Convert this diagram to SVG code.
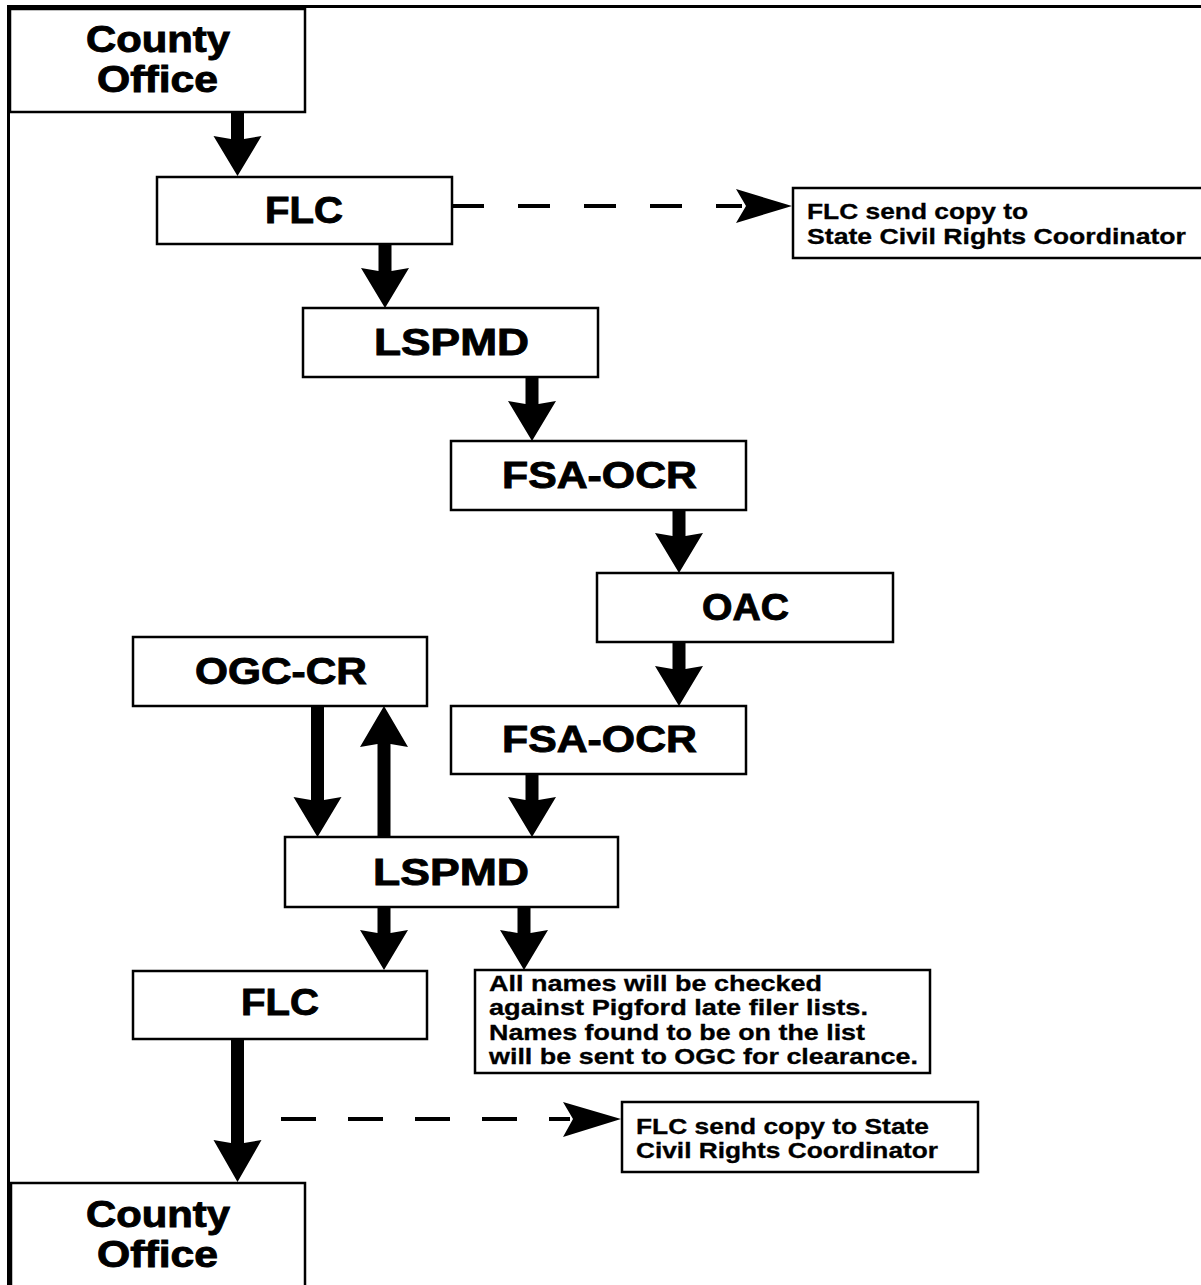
<svg xmlns="http://www.w3.org/2000/svg" width="1201" height="1285" viewBox="0 0 1201 1285">
<style>
.box{fill:#fff;stroke:#000;stroke-width:2.5}
.lbl{font-family:"Liberation Sans",Arial,sans-serif;font-weight:bold;font-size:37px;fill:#000;stroke:#000;stroke-width:0.9}
.co{font-family:"Liberation Sans",Arial,sans-serif;font-weight:bold;font-size:36px;fill:#000;stroke:#000;stroke-width:0.9}
.note{font-family:"Liberation Sans",Arial,sans-serif;font-weight:bold;font-size:21.5px;fill:#000;stroke:#000;stroke-width:0.3}
.arrow{fill:#000}
.dash{fill:none;stroke:#000;stroke-width:4}
</style>
<rect width="1201" height="1285" fill="#fff"/>
<g id="frame">
<line x1="7" y1="6.5" x2="1201" y2="6.5" stroke="#000" stroke-width="3"/>
<line x1="8.5" y1="5" x2="8.5" y2="1285" stroke="#000" stroke-width="3"/>
</g>
<g id="connectors">
<polygon class="arrow" points="231,111 244,111 244,139 261.5,136 237.5,176 213.5,136 231,139"/>
<polygon class="arrow" points="378.5,244 391.5,244 391.5,271 409,268 385,308 361,268 378.5,271"/>
<polygon class="arrow" points="525.5,377 538.5,377 538.5,404 556,401 532,441 508,401 525.5,404"/>
<polygon class="arrow" points="672.5,510 685.5,510 685.5,536 703,533 679,573 655,533 672.5,536"/>
<polygon class="arrow" points="672.5,642 685.5,642 685.5,669 703,666 679,706 655,666 672.5,669"/>
<polygon class="arrow" points="311,706 324,706 324,800 341.5,797 317.5,837 293.5,797 311,800"/>
<polygon class="arrow" points="377.5,837 390.5,837 390.5,744 408,747 384,706 360,747 377.5,744"/>
<polygon class="arrow" points="525.5,774 538.5,774 538.5,800 556,797 532,837 508,797 525.5,800"/>
<polygon class="arrow" points="377.5,907 390.5,907 390.5,933 408,930 384,970 360,930 377.5,933"/>
<polygon class="arrow" points="517.5,907 530.5,907 530.5,933 548,930 524,970 500,930 517.5,933"/>
<polygon class="arrow" points="231,1039 244,1039 244,1143 261.5,1140 237.5,1182 213.5,1140 231,1143"/>
<line class="dash" x1="452" y1="206" x2="742" y2="206" stroke-dasharray="32 34"/>
<polygon class="arrow" points="792,206 736,189 746,206 736,223"/>
<line class="dash" x1="281" y1="1119" x2="570" y2="1119" stroke-dasharray="35 32"/>
<polygon class="arrow" points="621,1119 563,1102 573,1119 563,1137"/>
</g>
<g id="county-office-top">
<rect class="box" x="10" y="9" width="295" height="103"/>
<text class="co" x="86" y="52" textLength="144" lengthAdjust="spacingAndGlyphs">County</text>
<text class="co" x="97" y="92" textLength="121" lengthAdjust="spacingAndGlyphs">Office</text>
</g>
<g id="flc-1">
<rect class="box" x="157" y="177" width="295" height="67"/>
<text class="lbl" x="265" y="223" textLength="78" lengthAdjust="spacingAndGlyphs">FLC</text>
</g>
<g id="note-1">
<rect class="box" x="793" y="188" width="420" height="70"/>
<text class="note" x="807" y="219" textLength="221" lengthAdjust="spacingAndGlyphs">FLC send copy to</text>
<text class="note" x="807" y="244" textLength="379" lengthAdjust="spacingAndGlyphs">State Civil Rights Coordinator</text>
</g>
<g id="lspmd-1">
<rect class="box" x="303" y="308" width="295" height="69"/>
<text class="lbl" x="374" y="355" textLength="155" lengthAdjust="spacingAndGlyphs">LSPMD</text>
</g>
<g id="fsa-ocr-1">
<rect class="box" x="451" y="441" width="295" height="69"/>
<text class="lbl" x="502" y="488" textLength="195" lengthAdjust="spacingAndGlyphs">FSA-OCR</text>
</g>
<g id="oac">
<rect class="box" x="597" y="573" width="296" height="69"/>
<text class="lbl" x="702" y="620" textLength="87" lengthAdjust="spacingAndGlyphs">OAC</text>
</g>
<g id="ogc-cr">
<rect class="box" x="133" y="637" width="294" height="69"/>
<text class="lbl" x="195" y="684" textLength="172" lengthAdjust="spacingAndGlyphs">OGC-CR</text>
</g>
<g id="fsa-ocr-2">
<rect class="box" x="451" y="706" width="295" height="68"/>
<text class="lbl" x="502" y="752" textLength="195" lengthAdjust="spacingAndGlyphs">FSA-OCR</text>
</g>
<g id="lspmd-2">
<rect class="box" x="285" y="837" width="333" height="70"/>
<text class="lbl" x="373" y="885" textLength="156" lengthAdjust="spacingAndGlyphs">LSPMD</text>
</g>
<g id="flc-2">
<rect class="box" x="133" y="971" width="294" height="68"/>
<text class="lbl" x="241" y="1015" textLength="78" lengthAdjust="spacingAndGlyphs">FLC</text>
</g>
<g id="note-pigford">
<rect class="box" x="475" y="970" width="455" height="103"/>
<text class="note" x="489" y="991" textLength="333" lengthAdjust="spacingAndGlyphs">All names will be checked</text>
<text class="note" x="489" y="1015" textLength="379" lengthAdjust="spacingAndGlyphs">against Pigford late filer lists.</text>
<text class="note" x="489" y="1040" textLength="376" lengthAdjust="spacingAndGlyphs">Names found to be on the list</text>
<text class="note" x="489" y="1064" textLength="429" lengthAdjust="spacingAndGlyphs">will be sent to OGC for clearance.</text>
</g>
<g id="note-2">
<rect class="box" x="622" y="1102" width="356" height="70"/>
<text class="note" x="636" y="1134" textLength="293" lengthAdjust="spacingAndGlyphs">FLC send copy to State</text>
<text class="note" x="636" y="1158" textLength="302" lengthAdjust="spacingAndGlyphs">Civil Rights Coordinator</text>
</g>
<g id="county-office-bottom">
<rect class="box" x="11" y="1183" width="294" height="110"/>
<text class="co" x="86" y="1227" textLength="144" lengthAdjust="spacingAndGlyphs">County</text>
<text class="co" x="97" y="1267" textLength="121" lengthAdjust="spacingAndGlyphs">Office</text>
</g>
</svg>
